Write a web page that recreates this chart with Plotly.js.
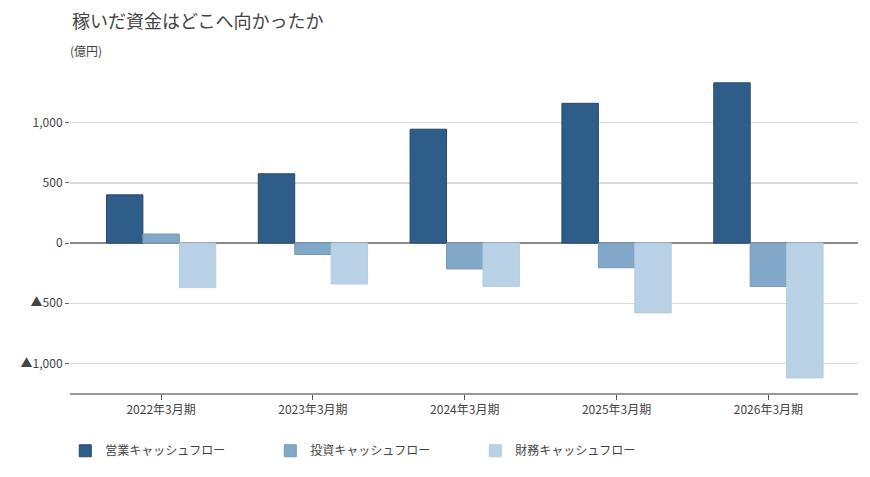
<!DOCTYPE html>
<html>
<head>
<meta charset="utf-8">
<script src="https://cdn.plot.ly/plotly-3.0.1.min.js"></script>
<style>
  body { margin: 0; background: #fff; }
  #chart { width: 870px; height: 477px; }
</style>
</head>
<body>
<div id="chart"></div>
<script>
// cash flow by fiscal year (億円)
var years = ["2022年3月期", "2023年3月期", "2024年3月期", "2025年3月期", "2026年3月期"];
var operating = [400, 575, 945, 1160, 1330];
var investing = [75, -95, -215, -205, -360];
var financing = [-370, -340, -360, -580, -1120];
var seriesNames = ["営業キャッシュフロー", "投資キャッシュフロー", "財務キャッシュフロー"];
var tickVals = [1000, 500, 0, -500, -1000];
var tickText = ["1,000", "500", "0", "▲500", "▲1,000"];

var font = "'Noto Sans CJK JP', 'Noto Sans', sans-serif";
var colours = ["#2e5d8a", "#82a8c9", "#b9d1e4"];
var edges = ["#24496e", "#7399bb", "#b3cce0"];

var data = [operating, investing, financing].map(function (vals, i) {
  return {
    type: "bar",
    name: seriesNames[i],
    x: years,
    y: vals,
    marker: { color: colours[i], line: { color: edges[i], width: 1 } },
    hoverinfo: "x+y+name"
  };
});

var layout = {
  width: 870,
  height: 477,
  margin: { l: 70, r: 12, t: 72, b: 82 },
  paper_bgcolor: "#fff",
  plot_bgcolor: "#fff",
  font: { family: font, size: 12, color: "#444" },
  barmode: "group",
  bargap: 0.28,
  bargroupgap: 0,
  showlegend: true,
  legend: {
    orientation: "h",
    x: -0.006, xanchor: "left",
    y: -0.18, yanchor: "middle",
    font: { size: 12, color: "#444" },
    entrywidth: 160,
    entrywidthmode: "pixels"
  },
  xaxis: {
    range: [-0.6, 4.59],
    showline: true,
    linecolor: "#999",
    linewidth: 1.5,
    ticks: "outside",
    ticklen: 5,
    tickcolor: "#555",
    showgrid: false,
    tickfont: { size: 12, color: "#444" }
  },
  yaxis: {
    range: [-1245, 1420],
    tickvals: tickVals,
    ticktext: tickText,
    showgrid: true,
    gridcolor: "#dadada",
    gridwidth: 1.5,
    zeroline: true,
    zerolinecolor: "#8a8a8a",
    zerolinewidth: 1.5,
    ticks: "outside",
    ticklen: 4,
    tickcolor: "#666",
    showline: false,
    tickfont: { size: 12, color: "#444" }
  },
  annotations: [
    {
      text: "稼いだ資金はどこへ向かったか",
      xref: "paper", yref: "paper",
      x: 0, y: 1.161, xanchor: "left", yanchor: "middle",
      showarrow: false,
      font: { family: font, size: 18, color: "#444" }
    },
    {
      text: "(億円)",
      xref: "paper", yref: "paper",
      x: -0.003, y: 1.068, xanchor: "left", yanchor: "middle",
      showarrow: false,
      font: { family: font, size: 12, color: "#444" }
    }
  ]
};

Plotly.newPlot("chart", data, layout, { displayModeBar: false, staticPlot: true });
</script>
</body>
</html>
